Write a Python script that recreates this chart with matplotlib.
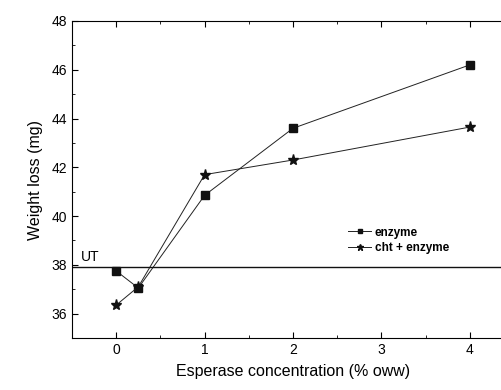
import matplotlib
matplotlib.use('Agg')
import matplotlib.pyplot as plt
from matplotlib.ticker import MultipleLocator

plt.rcParams['font.family'] = ['Liberation Sans', 'DejaVu Sans']

conc = [0, 0.25, 1, 2, 4]
enzyme = [37.75, 37.05, 40.85, 43.6, 46.2]
cht_enzyme = [36.35, 37.1, 41.7, 42.3, 43.65]
ut_level = 37.9

fig = plt.figure(figsize=(5.01, 3.9), dpi=100)
ax = fig.add_axes([72/501., 1-338/390., (514-72)/501., (338-21)/390.])

ax.plot(conc, enzyme, '-', color='#222222', lw=0.7, marker='s', ms=6,
        mfc='#111111', mec='#111111', label='enzyme')
ax.plot(conc, cht_enzyme, '-', color='#222222', lw=0.7, marker='*', ms=8,
        mfc='#111111', mec='#111111', label='cht + enzyme')
ax.axhline(ut_level, color='#111111', lw=1.0)
ax.text(-0.4, ut_level + 0.25, 'UT', fontsize=10)

ax.set_xlim(-0.5, 4.5)
ax.set_ylim(35, 48)
ax.xaxis.set_major_locator(MultipleLocator(1))
ax.xaxis.set_minor_locator(MultipleLocator(0.5))
ax.yaxis.set_major_locator(MultipleLocator(2))
ax.yaxis.set_minor_locator(MultipleLocator(1))
ax.tick_params(which='both', direction='in', top=True, right=True, labelsize=10)
ax.tick_params(which='major', length=4)
ax.tick_params(which='minor', length=2.5)

ax.set_xlabel('Esperase concentration (% oww)', fontsize=11.5, labelpad=5)
ax.set_ylabel('Weight loss (mg)', fontsize=11.5, labelpad=6)

leg = ax.legend(loc='upper left', bbox_to_anchor=(0.6, 0.385), frameon=False,
                prop={'size': 8.5, 'weight': 'bold'}, handlelength=2.0,
                markerscale=0.6, labelspacing=0.3, handletextpad=0.3)

fig.savefig('out.png', dpi=100)
